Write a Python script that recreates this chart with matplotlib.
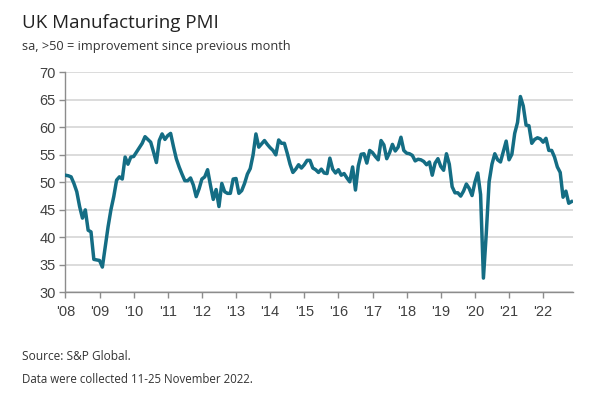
import numpy as np
import matplotlib
matplotlib.use("Agg")
import matplotlib.pyplot as plt

# Monthly UK Manufacturing PMI, Jan 2008 - Nov 2022
pmi_2008 = [51.3, 51.2, 51.0, 49.8, 48.3, 45.6, 43.5, 45.0, 41.3, 41.0, 36.0, 35.9]
pmi_2009 = [35.8, 34.6, 38.3, 41.9, 45.0, 47.4, 50.4, 51.0, 50.6, 54.6, 53.3, 54.6]
pmi_2010 = [54.7, 55.5, 56.3, 57.1, 58.3, 57.8, 57.3, 55.5, 53.6, 57.6, 58.8, 57.8]
pmi_2011 = [58.5, 58.9, 56.5, 54.3, 52.8, 51.5, 50.3, 50.3, 50.8, 49.5, 47.4, 48.8]
pmi_2012 = [50.6, 51.0, 52.3, 49.5, 46.9, 48.7, 45.6, 49.8, 48.3, 48.0, 48.0, 50.6]
pmi_2013 = [50.7, 48.0, 48.5, 49.8, 51.5, 52.5, 55.0, 58.8, 56.4, 57.0, 57.6, 56.9]
pmi_2014 = [56.3, 55.8, 55.0, 57.7, 57.1, 57.1, 55.3, 53.3, 51.8, 52.4, 53.2, 52.6]
pmi_2015 = [53.2, 54.0, 54.0, 52.6, 52.3, 51.8, 52.4, 51.7, 51.6, 54.4, 52.4, 51.7]
pmi_2016 = [52.3, 51.3, 51.6, 50.8, 50.1, 52.8, 48.6, 53.0, 55.1, 55.2, 53.5, 55.8]
pmi_2017 = [55.4, 54.7, 54.1, 57.6, 56.8, 54.3, 55.4, 56.9, 55.7, 56.4, 58.2, 55.8]
pmi_2018 = [55.3, 55.2, 54.9, 53.9, 54.2, 54.1, 53.8, 53.2, 53.7, 51.3, 53.5, 54.3]
pmi_2019 = [52.9, 52.2, 55.2, 53.3, 49.2, 48.1, 48.1, 47.5, 48.4, 49.7, 48.9, 47.6]
pmi_2020 = [50.0, 51.7, 47.8, 32.6, 40.7, 50.1, 53.3, 55.2, 54.1, 53.7, 55.6, 57.5]
pmi_2021 = [54.1, 55.1, 58.9, 60.9, 65.6, 63.9, 60.4, 60.3, 57.1, 57.8, 58.1, 57.9]
pmi_2022 = [57.3, 58.0, 55.8, 55.8, 54.6, 52.8, 51.8, 47.3, 48.4, 46.2, 46.5]

years = list(range(2008, 2023))
year_labels = ["'08", "'09", "'10", "'11", "'12", "'13", "'14", "'15", "'16",
               "'17", "'18", "'19", "'20", "'21", "'22"]
y_ticks = [30, 35, 40, 45, 50, 55, 60, 65, 70]

pmi = (pmi_2008 + pmi_2009 + pmi_2010 + pmi_2011 + pmi_2012 + pmi_2013 + pmi_2014
       + pmi_2015 + pmi_2016 + pmi_2017 + pmi_2018 + pmi_2019 + pmi_2020
       + pmi_2021 + pmi_2022)
months = np.arange(len(pmi))  # months since Jan 2008

LINE = "#146d84"
GRID = "#d9d9d9"
AXC = "#8c8c8c"
TXT = "#333333"

fig = plt.figure(figsize=(6.0, 3.93), dpi=100)
ax = fig.add_axes([0.109, 0.256, 0.846, 0.560])

ax.plot(months, pmi, color=LINE, lw=2.5, solid_joinstyle="round", zorder=3)

ax.set_xlim(0, 178.5)
ax.set_ylim(30, 70)
ax.set_yticks(y_ticks)
ax.set_xticks([(y - 2008) * 12 for y in years])
ax.set_xticklabels(year_labels)

ax.grid(axis="y", color=GRID, lw=1.3, zorder=0)
ax.set_axisbelow(True)
for s in ["top", "right"]:
    ax.spines[s].set_visible(False)
for s in ["left", "bottom"]:
    ax.spines[s].set_color(AXC)
    ax.spines[s].set_linewidth(1.0)

ax.tick_params(axis="both", colors=AXC, length=4, width=1.0, labelcolor="#404040",
               labelsize=10.5)
ax.tick_params(axis="x", pad=5)
ax.tick_params(axis="y", pad=3)
for lab in ax.get_xticklabels() + ax.get_yticklabels():
    lab.set_fontfamily("Liberation Sans")

fig.text(0.037, 0.942, "UK Manufacturing PMI", fontsize=13.5, color="#222222",
         family="Open Sans", va="center", ha="left")
fig.text(0.037, 0.882, "sa, >50 = improvement since previous month", fontsize=9.2,
         color=TXT, family="Open Sans", va="center", ha="left")
fig.text(0.037, 0.092, "Source: S&P Global.", fontsize=8.6, color=TXT,
         family="Open Sans", va="center", ha="left")
fig.text(0.037, 0.034, "Data were collected 11-25 November 2022.", fontsize=8.3,
         color=TXT, family="Open Sans", va="center", ha="left")

fig.savefig("out.png", dpi=100, facecolor="white")
